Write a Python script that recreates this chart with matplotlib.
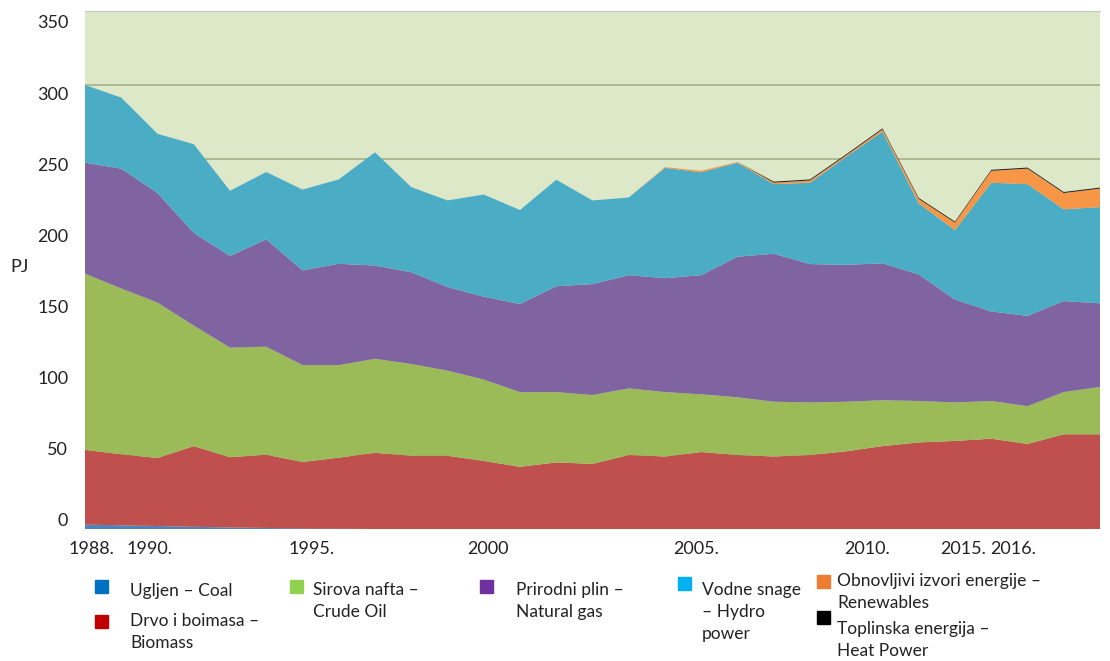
import matplotlib
matplotlib.use('Agg')
from matplotlib import pyplot as plt
from matplotlib.patches import Rectangle
from matplotlib.transforms import ScaledTranslation

plt.rcParams['font.family'] = ['Lato', 'DejaVu Sans']

years = list(range(1988, 2017))

coal = [3, 2.5, 2, 1.5, 1, 0.7, 0.3, 0.2, 0, 0, 0, 0, 0, 0, 0,
        0, 0, 0, 0, 0, 0, 0, 0, 0, 0, 0, 0, 0, 0]
biomass = [50.5, 48, 46, 54.5, 47.5, 49.5, 45, 48, 51.5, 49.5, 49.5, 46, 42, 45, 44,
           50, 49, 52, 50, 49, 50, 52.5, 56, 58.5, 59.5, 61, 57.5, 64, 64]
crude_oil = [119, 112, 105, 81.5, 74, 73, 65.5, 62.5, 63.5, 62, 57.5, 55, 50.5, 47.5, 46.5,
             45, 43.5, 39, 39, 37, 35.5, 33.5, 31, 28, 26, 25.5, 25.5, 28.5, 32]
natural_gas = [75, 81, 74, 62.5, 62, 72.5, 64, 68.5, 63, 62, 56.5, 56, 59.5, 71.5, 75,
               76.5, 77, 80.5, 95, 100, 93.5, 92.5, 92.5, 85.5, 69.5, 60.5, 61, 61.5, 56.5]
hydro = [52.5, 48, 40, 60, 44, 45.5, 54.5, 57, 76.5, 57.5, 58.5, 69, 63.5, 72, 56.5,
         52.5, 74.5, 69.5, 63.5, 47, 55, 73, 89, 48, 47, 87, 89, 62, 65]
renewables = [0, 0, 0, 0, 0, 0, 0, 0, 0, 0, 0, 0, 0, 0, 0,
              0, 0.5, 1, 0.5, 1, 1.5, 1, 1.5, 3, 5, 8, 10.5, 11, 12.5]
heat = [0, 0, 0, 0, 0, 0, 0, 0, 0, 0, 0, 0, 0, 0, 0,
        0, 0, 0, 0, 0.7, 0.7, 0.7, 0.7, 0.7, 0.7, 0.7, 0.7, 0.7, 0.7]

area_colors = ['#4F81BD', '#C0504D', '#9BBB59', '#8064A2', '#4BACC6', '#F79646', '#222222']

tick_labels = ['1988.', '1990.', '1995.', '2000', '2005.', '2010.', '2015.', '2016.']
tick_pos = [1988.17, 1989.79, 1994.26, 1999.12, 2004.86, 2009.57, 2012.22, 2013.6]

legend_labels = ['Ugljen – Coal', 'Drvo i boimasa –\nBiomass', 'Sirova nafta –\nCrude Oil',
                 'Prirodni plin –\nNatural gas', 'Vodne snage\n– Hydro\npower',
                 'Obnovljivi izvori energije –\nRenewables', 'Toplinska energija –\nHeat Power']
legend_colors = ['#0070C0', '#C00000', '#92D050', '#7030A0', '#00B0F0', '#ED7D31', '#000000']

W, H = 1110, 661
fig = plt.figure(figsize=(W / 100, H / 100), dpi=100)
ax = fig.add_axes([85 / W, 1 - 529 / H, (1100 - 85) / W, (529 - 11) / H])

ax.set_facecolor('#DDE8C8')
ax.stackplot(years, coal, biomass, crude_oil, natural_gas, hydro, renewables, heat,
             colors=area_colors, linewidth=0)
ax.set_xlim(1988, 2016)
ax.set_ylim(0, 350)
ax.set_yticks(range(0, 351, 50))
ax.grid(axis='y', color='#A8B68C', linewidth=1.3)
ax.set_axisbelow(True)
ax.set_xticks(tick_pos, tick_labels)
ax.tick_params(axis='both', length=0, labelsize=13, colors='#222222')
ax.tick_params(axis='y', pad=12)
ax.tick_params(axis='x', pad=9)
for s in ['left', 'right', 'bottom']:
    ax.spines[s].set_visible(False)
ax.spines['top'].set_color('#C8C8C8')

# the y labels in the original sit on a slightly squeezed scale
for val, lab in zip(range(0, 351, 50), ax.get_yticklabels()):
    off = 11 - 0.058 * (350 - val)
    lab.set_transform(lab.get_transform() + ScaledTranslation(0, -off / 100, fig.dpi_scale_trans))

fig.text(20 / W, 1 - 267 / H, 'PJ', ha='center', va='center', fontsize=13, color='#222222')

# legend, hand placed like the original
box_xy = [(95, 580), (95, 615), (290, 580), (480, 580), (678, 577), (817, 575), (817, 611)]
text_xy = [(130, 591), (130, 632), (313, 601), (516, 601), (702, 612), (837, 592), (837, 640)]
for lab, col, (bx, by), (tx, ty) in zip(legend_labels, legend_colors, box_xy, text_xy):
    fig.patches.append(Rectangle((bx / W, 1 - (by + 13) / H), 13 / W, 13 / H,
                                 transform=fig.transFigure, color=col))
    fig.text(tx / W, 1 - ty / H, lab, ha='left', va='center', fontsize=12.5,
             color='#222222', linespacing=1.5)

fig.savefig('out.png', dpi=100)
